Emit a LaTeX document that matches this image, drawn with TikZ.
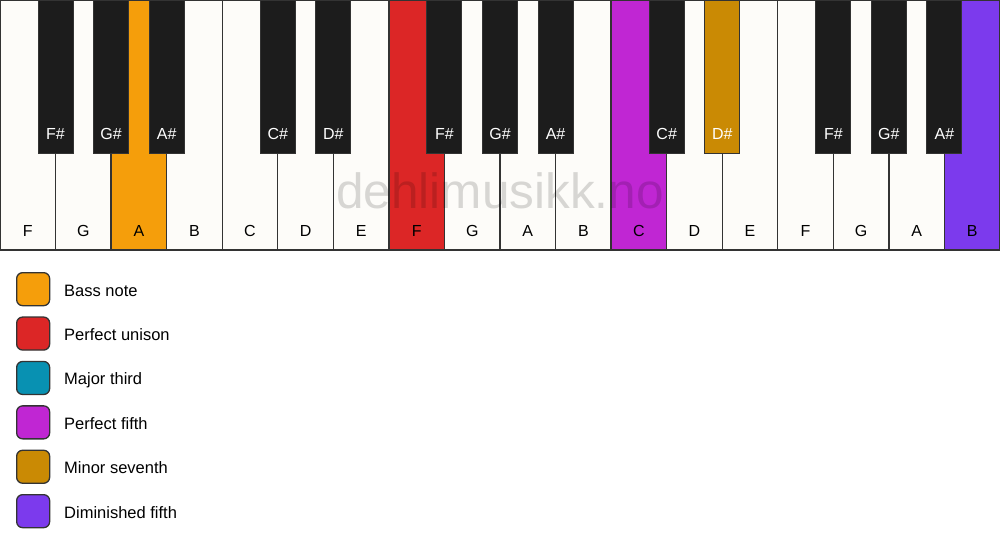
\documentclass[tikz,border=0pt]{standalone}
\usepackage{fontspec}
\setmainfont{Liberation Sans}
\definecolor{wkey}{HTML}{FDFCF9}
\definecolor{bkey}{HTML}{1C1C1C}
\definecolor{edge}{HTML}{333333}
\definecolor{bass}{HTML}{F59E0B}
\definecolor{unison}{HTML}{DC2626}
\definecolor{third}{HTML}{0891B2}
\definecolor{fifth}{HTML}{C026D3}
\definecolor{seventh}{HTML}{CA8A04}
\definecolor{dimfifth}{HTML}{7C3AED}
\tikzset{
  whitekey/.style={draw=edge, line width=1.4pt, rectangle, inner sep=0pt, outer sep=0pt,
    minimum width=55.5556pt, minimum height=250pt, anchor=north west},
  blackkey/.style={draw=edge, line width=1pt, rectangle, inner sep=0pt, outer sep=0pt,
    minimum width=35pt, minimum height=153pt, anchor=north},
  keylabel/.style={font=\fontsize{16}{18}\selectfont, anchor=base, inner sep=0pt},
  legbox/.style={draw=edge, line width=1.3pt, rounded corners=6pt, rectangle,
    minimum width=33pt, minimum height=33pt, inner sep=0pt, anchor=north west},
  legtext/.style={font=\fontsize{16.5}{19}\selectfont, anchor=base west, inner sep=0pt}
}
\begin{document}
\begin{tikzpicture}[x=1pt,y=-1pt]
\useasboundingbox (0,0) rectangle (1000,550);
\fill[white] (0,0) rectangle (1000,550);
% white keys
\foreach \n/\c [count=\i from 0] in {F/wkey,G/wkey,A/bass,B/wkey,C/wkey,D/wkey,E/wkey,F/unison,G/wkey,A/wkey,B/wkey,C/fifth,D/wkey,E/wkey,F/wkey,G/wkey,A/wkey,B/dimfifth}{
  \node[whitekey, fill=\c] (w\i) at ({\i*55.5556},0) {};
  \node[keylabel] (wl\i) at ({\i*55.5556+27.7778},236) {\n};
}
% watermark
\node[font=\fontsize{49.5}{50}\selectfont, text=black, text opacity=0.15, anchor=base, inner sep=0pt] (wm) at (500,208) {dehlimusikk.no};
% black keys
\foreach \n/\b/\c/\t in {F\#/1/bkey/white,G\#/2/bkey/white,A\#/3/bkey/white,C\#/5/bkey/white,D\#/6/bkey/white,F\#/8/bkey/white,G\#/9/bkey/white,A\#/10/bkey/white,C\#/12/bkey/white,D\#/13/seventh/white,F\#/15/bkey/white,G\#/16/bkey/white,A\#/17/bkey/white}{
  \node[blackkey, fill=\c] (b\b) at ({\b*55.5556},0) {};
  \node[keylabel, text=\t] (bl\b) at ({\b*55.5556},139) {\n};
}
% legend
\foreach \c/\t [count=\i from 0] in {bass/Bass note,unison/Perfect unison,third/Major third,fifth/Perfect fifth,seventh/Minor seventh,dimfifth/Diminished fifth}{
  \node[legbox, fill=\c] (lb\i) at (16,{272+\i*44.4}) {};
  \node[legtext] (lt\i) at (64,{296+\i*44.4}) {\t};
}
\end{tikzpicture}
\end{document}
